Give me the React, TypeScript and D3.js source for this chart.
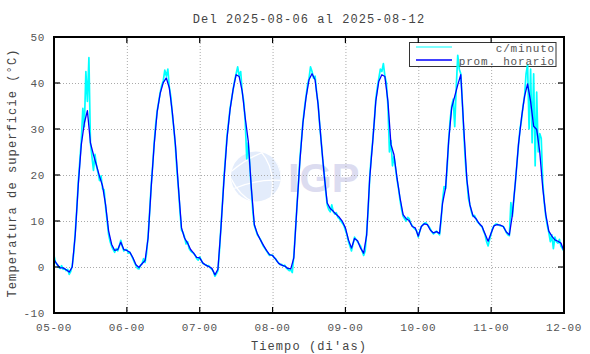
import React from "react";
import * as d3 from "d3";

const TITLE = "Del 2025-08-06 al 2025-08-12";
const X_LABEL = "Tiempo (di'as)";
const Y_LABEL = "Temperatura de superficie (°C)";
const X_TICK_LABELS = ["05-00", "06-00", "07-00", "08-00", "09-00", "10-00", "11-00", "12-00"];
const Y_TICKS = [-10, 0, 10, 20, 30, 40, 50];
const SERIES_NAMES = ["c/minuto", "prom. horario"];

// hourly averages (one value per hour, starting at day 05 00h)
const HOURLY_D05 = [1.6, 0.6, -0.2, -0.2, -0.6, -1.1, 0.0, 7.0, 17.9, 26.6, 31.3, 34.0, 27.0, 24.4, 22.1, 19.7, 17.6, 13.5, 7.8, 4.9, 3.6, 3.8, 5.4, 3.8];
const HOURLY_D06 = [3.6, 3.2, 2.0, 0.5, -0.1, 0.7, 1.4, 6.3, 17.2, 26.6, 33.8, 37.8, 40.1, 41.1, 38.9, 33.5, 26.6, 17.2, 8.5, 6.3, 5.2, 3.8, 3.0, 2.1];
const HOURLY_D07 = [2.0, 0.9, 0.4, 0.1, -0.3, -1.7, -0.5, 8.5, 19.0, 28.0, 34.2, 38.6, 41.8, 41.4, 38.2, 32.4, 27.3, 17.2, 9.2, 7.2, 5.9, 4.7, 3.6, 2.7];
const HOURLY_D08 = [2.5, 1.7, 0.8, 0.4, 0.2, -0.3, -0.4, 2.0, 12.8, 23.0, 31.3, 36.7, 40.7, 42.0, 40.7, 35.3, 27.3, 20.0, 13.9, 12.7, 12.1, 11.4, 10.8, 9.9];
const HOURLY_D09 = [8.5, 5.9, 4.1, 6.2, 5.7, 4.1, 3.0, 7.0, 19.3, 27.3, 36.0, 40.4, 41.8, 41.4, 36.0, 26.6, 24.4, 19.3, 15.0, 11.4, 10.5, 10.1, 8.8, 8.5];
const HOURLY_D10 = [6.7, 8.8, 9.4, 9.2, 8.0, 7.4, 7.7, 7.3, 13.9, 17.2, 27.3, 34.6, 37.1, 39.6, 41.8, 30.0, 19.0, 13.5, 11.2, 10.5, 9.5, 8.8, 7.2, 5.6];
const HOURLY_D11 = [7.4, 9.0, 9.2, 9.1, 8.8, 7.6, 7.0, 11.4, 18.6, 26.6, 32.4, 37.1, 39.8, 36.0, 30.6, 29.9, 25.1, 17.2, 11.4, 7.8, 6.7, 5.9, 5.6, 5.2, 3.4];

// fine samples (every half hour)
const FINE_D05 = [2.5, 1.0, 0.6, 0.0, -0.3, 0.3, -0.5, -0.3, -0.8, -0.5, -1.6, -1.0, 0.3, 3.0, 7.5, 12.5, 18.5, 23.0, 27.5, 34.5, 30.5, 42.5, 36.0, 45.5, 27.0, 24.0, 21.0, 24.5, 22.0, 20.5, 18.8, 19.8, 17.0, 16.8, 13.0, 10.0, 7.0, 5.5, 4.5, 3.8, 3.2, 4.0, 3.5, 4.5, 5.8, 4.5, 3.5, 3.8];
const FINE_D06 = [3.8, 3.0, 3.2, 2.5, 1.8, 1.0, 0.3, -0.3, -0.4, 0.4, 0.7, 1.8, 1.0, 3.0, 6.8, 12.0, 17.5, 22.0, 27.0, 31.0, 34.0, 36.0, 38.0, 39.5, 40.5, 42.8, 41.5, 43.0, 39.0, 37.0, 33.0, 30.0, 26.0, 21.0, 17.0, 12.0, 8.0, 7.5, 6.5, 5.0, 5.5, 4.0, 3.5, 3.2, 3.0, 2.5, 1.8, 1.5];
const FINE_D07 = [2.2, 1.5, 0.8, 0.6, 0.5, 0.2, 0.3, -0.2, -0.5, -1.0, -2.0, -1.5, -0.8, 3.5, 8.8, 14.0, 19.5, 24.0, 28.5, 31.5, 34.5, 36.5, 38.5, 40.5, 42.0, 43.5, 41.5, 42.5, 38.0, 36.0, 31.5, 23.5, 27.0, 22.0, 17.0, 12.0, 9.0, 8.0, 7.0, 6.5, 6.0, 5.2, 4.5, 4.0, 3.5, 3.0, 2.5, 2.6];
const FINE_D08 = [2.6, 2.0, 1.8, 1.2, 0.9, 0.5, 0.6, 0.2, 0.4, -0.2, -0.5, -0.8, -0.6, -1.2, 2.5, 7.5, 13.0, 18.0, 23.5, 27.5, 31.5, 34.5, 37.0, 39.5, 41.0, 43.5, 42.5, 41.0, 41.5, 38.0, 35.5, 31.0, 27.5, 23.5, 20.5, 16.5, 13.5, 12.5, 12.0, 13.5, 12.0, 11.5, 11.8, 10.8, 10.5, 10.0, 9.5, 9.0];
const FINE_D09 = [8.0, 7.0, 5.5, 4.5, 3.5, 5.0, 6.5, 6.0, 5.5, 5.0, 4.5, 3.5, 2.5, 3.5, 7.5, 12.5, 19.5, 24.0, 27.5, 31.5, 36.5, 39.0, 41.0, 43.0, 42.5, 44.2, 41.5, 40.0, 35.0, 25.0, 27.5, 22.0, 24.0, 21.5, 19.0, 17.0, 14.5, 12.5, 11.0, 10.5, 10.0, 10.8, 10.5, 9.5, 9.0, 8.5, 8.2, 7.8];
const FINE_D10 = [6.5, 7.8, 8.8, 9.2, 9.5, 9.6, 9.2, 8.8, 8.2, 7.6, 7.2, 7.5, 7.8, 7.4, 7.0, 10.0, 14.5, 17.5, 17.0, 21.5, 27.5, 32.0, 35.0, 36.5, 30.5, 39.0, 46.0, 43.0, 42.0, 36.0, 29.0, 23.0, 19.0, 15.0, 13.5, 12.0, 11.0, 11.2, 10.5, 9.8, 9.5, 9.0, 8.8, 7.8, 7.0, 5.5, 4.6, 6.0];
const FINE_D11 = [7.2, 8.5, 9.0, 9.3, 9.3, 9.1, 9.0, 8.9, 8.8, 8.2, 7.5, 7.0, 6.8, 14.0, 11.0, 15.0, 18.5, 22.5, 26.5, 30.0, 32.0, 35.0, 37.0, 42.0, 44.0, 30.0, 43.0, 27.0, 42.0, 22.0, 38.0, 25.0, 29.0, 28.0, 18.5, 14.0, 11.0, 9.0, 7.5, 5.5, 7.0, 4.0, 6.5, 5.5, 5.2, 6.0, 4.5, 4.0, 3.4];

const HOURLY = [...HOURLY_D05, ...HOURLY_D06, ...HOURLY_D07, ...HOURLY_D08, ...HOURLY_D09, ...HOURLY_D10, ...HOURLY_D11];
const FINE = [...FINE_D05, ...FINE_D06, ...FINE_D07, ...FINE_D08, ...FINE_D09, ...FINE_D10, ...FINE_D11];

const W = 590;
const H = 354;
const M = { left: 54, right: 564, top: 37, bottom: 313 };
const FONT = "'Liberation Mono', 'DejaVu Sans Mono', monospace";
const TXT = "#555";

export default function App() {
  const x = d3.scaleLinear().domain([0, 168]).range([M.left, M.right]);
  const y = d3.scaleLinear().domain([-10, 50]).range([M.bottom, M.top]);
  const xTicks = X_TICK_LABELS.map((_, i) => i * 24);

  const fineLine = d3
    .line<number>()
    .x((_, i) => x(i / 2))
    .y((d) => y(d));
  const hourLine = d3
    .line<number>()
    .x((_, i) => x(i))
    .y((d) => y(d));

  const cx = 256, cy = 176.5, r = 25;

  return (
    <svg width={W} height={H} style={{ position: "absolute", left: 0, top: 0, background: "#fff" }} fontFamily={FONT}>
      <rect x={0} y={0} width={W} height={H} fill="#fff" />
      {/* watermark */}
      <defs>
        <clipPath id="logoClip">
          <circle cx={cx} cy={cy} r={r} />
        </clipPath>
      </defs>
      <circle cx={cx} cy={cy} r={r} fill="#e3ecfb" />
      <g clipPath="url(#logoClip)" fill="none" stroke="#fff" strokeWidth={1.3}>
        <path d={`M ${cx - 26} ${cy - 4} Q ${cx - 5} ${cy - 22} ${cx + 14} ${cy - 26}`} />
        <path d={`M ${cx - 22} ${cy + 12} Q ${cx + 2} ${cy + 2} ${cx + 26} ${cy + 4}`} />
        <path d={`M ${cx + 4} ${cy - 26} Q ${cx + 22} ${cy - 6} ${cx + 14} ${cy + 26}`} />
        <path d={`M ${cx + 12} ${cy - 25} Q ${cx + 30} ${cy - 8} ${cx + 24} ${cy + 14}`} />
        <path d={`M ${cx - 25} ${cy + 2} Q ${cx - 16} ${cy + 20} ${cx - 2} ${cy + 26}`} />
      </g>
      <text x={288} y={191.5} fontFamily="'Liberation Sans', Arial, sans-serif" fontWeight="bold" fontSize={41.5} fill="#dcdcf0">
        IGP
      </text>

      {/* grid */}
      <g stroke="#aaa" strokeWidth={1} strokeDasharray="1,2">
        {xTicks.slice(1, -1).map((t) => (
          <line key={"gx" + t} x1={x(t) + 0.5} x2={x(t) + 0.5} y1={M.top} y2={M.bottom} />
        ))}
        {Y_TICKS.slice(1, -1).map((t) => (
          <line key={"gy" + t} x1={M.left} x2={M.right} y1={y(t) + 0.5} y2={y(t) + 0.5} />
        ))}
      </g>

      {/* legend box */}
      <rect x={409.5} y={42.5} width={146.5} height={24} fill="#fff" stroke="#333" strokeWidth={1} />

      {/* data */}
      <path d={fineLine(FINE) || ""} fill="none" stroke="#00ffff" strokeWidth={1.7} strokeLinejoin="round" />
      <path d={hourLine(HOURLY) || ""} fill="none" stroke="#0000ff" strokeWidth={1.3} strokeLinejoin="round" />

      {/* legend */}
      <line x1={416} x2={452} y1={47} y2={47} stroke="#00ffff" strokeWidth={1} />
      <line x1={416} x2={452} y1={60} y2={60} stroke="#0000ff" strokeWidth={1.3} />
      <text x={555} y={51.5} textAnchor="end" fontSize={11} letterSpacing={0.8} fill={TXT}>
        {SERIES_NAMES[0]}
      </text>
      <text x={555} y={64.5} textAnchor="end" fontSize={11} letterSpacing={0.8} fill={TXT}>
        {SERIES_NAMES[1]}
      </text>

      {/* ticks */}
      <g stroke="#000" strokeWidth={1.2}>
        {xTicks.map((t) => (
          <g key={"tx" + t}>
            <line x1={x(t)} x2={x(t)} y1={M.bottom} y2={M.bottom - 6} />
            <line x1={x(t)} x2={x(t)} y1={M.top} y2={M.top + 6} />
          </g>
        ))}
        {Y_TICKS.map((t) => (
          <g key={"ty" + t}>
            <line x1={M.left} x2={M.left + 6} y1={y(t)} y2={y(t)} />
            <line x1={M.right} x2={M.right - 6} y1={y(t)} y2={y(t)} />
          </g>
        ))}
      </g>
      {/* frame */}
      <rect x={M.left} y={M.top} width={M.right - M.left} height={M.bottom - M.top} fill="none" stroke="#000" strokeWidth={2} />

      {/* tick labels */}
      {xTicks.map((t, i) => (
        <text key={"lx" + t} x={x(t)} y={331} textAnchor="middle" fontSize={11} letterSpacing={0.6} fill={TXT}>
          {X_TICK_LABELS[i]}
        </text>
      ))}
      {Y_TICKS.map((t) => (
        <text key={"ly" + t} x={45} y={y(t) + 4} textAnchor="end" fontSize={11} letterSpacing={0.6} fill={TXT}>
          {String(t)}
        </text>
      ))}

      {/* titles */}
      <text x={309} y={23} textAnchor="middle" fontSize={12} letterSpacing={1.1} fill="#444">
        {TITLE}
      </text>
      <text x={309} y={350} textAnchor="middle" fontSize={12} letterSpacing={1.1} fill="#444">
        {X_LABEL}
      </text>
      <text
        transform={`translate(16, 173) rotate(-90)`}
        textAnchor="middle"
        fontSize={12}
        letterSpacing={1.1}
        fill="#444"
      >
        {Y_LABEL}
      </text>
    </svg>
  );
}
